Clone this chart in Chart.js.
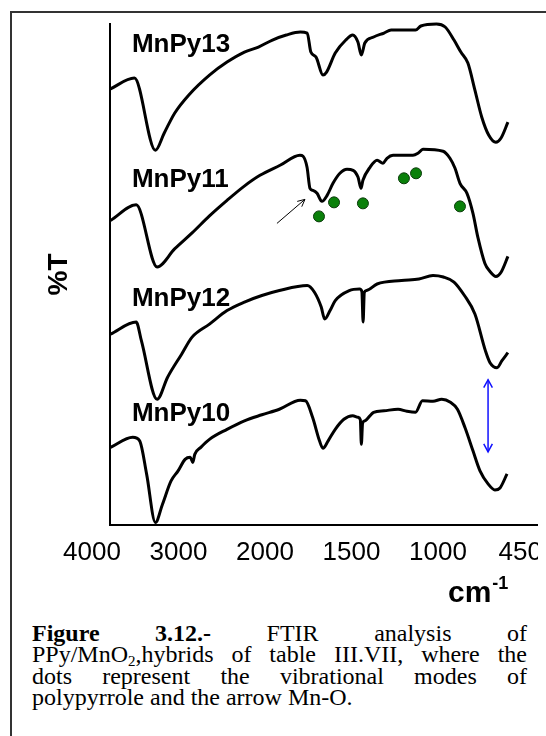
<!DOCTYPE html>
<html>
<head>
<meta charset="utf-8">
<script src="https://cdn.jsdelivr.net/npm/chart.js@4.4.1/dist/chart.umd.min.js"></script>
<style>
  html, body { margin: 0; padding: 0; background: #fff; }
  body { width: 546px; height: 736px; overflow: hidden; position: relative; }
  .frame { position: absolute; left: 10px; top: 11px; width: 600px; height: 800px;
           border: 2px solid #333; box-sizing: border-box; }
  #chart { position: absolute; left: 0; top: 0; }
  .caption { position: absolute; left: 32px; top: 623px; width: 495px;
             font-family: "Liberation Serif", "Times New Roman", serif; font-size: 24px;
             line-height: 21.3px; color: #000; }
  .caption .j { text-align: justify; text-align-last: justify; }
  .caption .sub { font-size: 15px; vertical-align: -4px; line-height: 0; }
</style>
</head>
<body>
<div class="frame"></div>
<canvas id="chart" width="538" height="620"></canvas>
<div class="caption">
  <div class="j"><b>Figure 3.12.-</b> FTIR analysis of</div>
  <div class="j">PPy/MnO<span class="sub">2</span>,hybrids of table III.VII, where the</div>
  <div class="j">dots represent the vibrational modes of</div>
  <div>polypyrrole and the arrow Mn-O.</div>
</div>
<script>
// ---------------------------
// datos
// ---------------------------
// eje x partido: cada etiqueta ocupa el mismo hueco
const tickWn = [4000, 3000, 2000, 1500, 1000, 450];
const tickPos = [0, 1, 2, 3, 4, 4.95];
const tickLabels = ["4000", "3000", "2000", "1500", "1000", "450"];

const seriesNames = ["MnPy13", "MnPy11", "MnPy12", "MnPy10"];
const labelWn = 3538;
const labelT = [94.4, 67.4, 43.8, 20.8];

// [número de onda cm-1, %T desplazado]
const mnpy13 = [[3792,87.0],[3510,89.2],[3267,74.8],[3166,78.2],[3045,82.2],[2883,85.8],[2642,89.8],[2439,92.4],
  [2238,94.4],[2076,95.4],[1957,96.8],[1877,97.8],[1796,98.4],[1756,98.2],[1735,94.4],[1705,93.4],[1665,89.8],
  [1644,90.4],[1594,94.2],[1533,96.8],[1493,97.8],[1463,96.4],[1443,93.8],[1423,96.2],[1372,97.4],[1312,98.2],
  [1271,98.8],[1130,98.8],[1099,99.6],[1009,100],[952,99.4],[893,96.8],[847,94.4],[800,92.2],[753,86.8],
  [707,81.4],[660,77.8],[613,76.4],[579,77.2],[532,80.4]];

const mnpy11 = [[3785,60.8],[3489,63.9],[3247,51.5],[3045,55.1],[2843,58.3],[2642,61.7],[2439,64.8],[2243,67.6],
  [2058,69.8],[1913,71.8],[1798,73.8],[1780,73.6],[1757,71.4],[1740,67.2],[1723,66.8],[1699,66.2],[1671,64.6],
  [1641,65.8],[1607,68.2],[1567,70.2],[1526,71.0],[1491,70.8],[1462,69.4],[1445,67.2],[1434,68.8],[1393,71.4],
  [1352,72.8],[1318,72.2],[1295,73.2],[1260,73.8],[1145,73.8],[1116,74.2],[1087,75.0],[966,74.6],[920,73.2],
  [886,71.2],[853,68.2],[806,66.2],[766,62.2],[733,57.4],[686,52.2],[652,50.6],[612,49.6],[579,50.4],[532,53.6]];

const mnpy12 = [[3785,38.1],[3489,40.5],[3429,36.8],[3247,25.1],[3126,29.5],[2964,34.1],[2843,37.5],[2642,40.1],
  [2439,42.8],[2238,44.5],[2036,45.8],[1917,46.8],[1756,47.8],[1715,46.5],[1675,43.5],[1655,41.1],[1624,42.8],
  [1594,44.8],[1513,46.8],[1453,47.1],[1440,46.6],[1433,40.5],[1426,46.4],[1413,46.8],[1352,48.1],[1211,48.8],
  [1110,49.1],[1029,49.8],[964,49.5],[893,48.5],[823,45.8],[753,42.1],[683,34.8],[652,32.4],[605,31.4],
  [572,32.8],[532,34.4]];

const mnpy10 = [[3785,15.5],[3529,17.5],[3449,16.8],[3368,10.1],[3267,0.5],[3186,4.1],[3086,8.8],[3005,10.8],
  [2924,13.1],[2864,13.5],[2835,12.5],[2812,14.1],[2742,15.5],[2642,17.1],[2439,19.1],[2238,20.8],[2036,22.0],
  [1917,23.1],[1796,24.9],[1766,24.8],[1725,21.5],[1685,16.8],[1665,15.3],[1635,16.8],[1594,19.1],[1544,21.1],
  [1493,21.8],[1463,21.5],[1449,21.0],[1443,16.1],[1436,20.3],[1423,20.8],[1372,22.5],[1312,22.8],[1231,23.1],
  [1180,22.7],[1130,22.5],[1090,24.8],[1029,24.7],[975,25.1],[917,24.5],[870,23.1],[819,19.4],[766,14.8],
  [719,10.8],[665,8.2],[619,7.0],[585,7.4],[538,10.2]];

// modos vibracionales del polipirrol (puntos verdes)
const dotsWn = [1688, 1601, 1434, 1197, 1127, 853];
const dotsT = [61.6, 64.4, 64.2, 69.2, 70.2, 63.6];

// flecha negra y flecha Mn-O
const arrowFrom = [1931, 60.2];
const arrowTo = [1769, 65.0];
const mnoWn = 665;
const mnoT = [29.0, 14.6];

// ---------------------------
// funciones
// ---------------------------
function toAxis(wn) {
  for (let k = 0; k < tickWn.length - 1; k++) {
    const a = tickWn[k], b = tickWn[k + 1];
    if ((wn <= a && wn >= b) || k === tickWn.length - 2) {
      return tickPos[k] + (a - wn) / (a - b) * (tickPos[k + 1] - tickPos[k]);
    }
  }
}

function toPoints(serie) {
  return serie.map(p => ({ x: toAxis(p[0]), y: p[1] }));
}

function arrowHead(ctx, fx, fy, tx, ty, size, ang) {
  const a = Math.atan2(ty - fy, tx - fx);
  ctx.beginPath();
  ctx.moveTo(tx - size * Math.cos(a - ang), ty - size * Math.sin(a - ang));
  ctx.lineTo(tx, ty);
  ctx.lineTo(tx - size * Math.cos(a + ang), ty - size * Math.sin(a + ang));
  ctx.stroke();
}

const extras = {
  id: "extras",
  afterDatasetsDraw(chart) {
    const { ctx, chartArea, scales: { x, y } } = chart;
    ctx.save();

    // nombres de las muestras
    ctx.fillStyle = "#000";
    ctx.font = 'bold 26px "Liberation Sans", Arial, sans-serif';
    ctx.textBaseline = "alphabetic";
    seriesNames.forEach((name, k) => {
      ctx.fillText(name, x.getPixelForValue(toAxis(labelWn)), y.getPixelForValue(labelT[k]));
    });

    // flecha negra
    const ax1 = x.getPixelForValue(toAxis(arrowFrom[0])), ay1 = y.getPixelForValue(arrowFrom[1]);
    const ax2 = x.getPixelForValue(toAxis(arrowTo[0])), ay2 = y.getPixelForValue(arrowTo[1]);
    ctx.strokeStyle = "#000";
    ctx.lineWidth = 1;
    ctx.beginPath();
    ctx.moveTo(ax1, ay1);
    ctx.lineTo(ax2, ay2);
    ctx.stroke();
    arrowHead(ctx, ax1, ay1, ax2, ay2, 8, 0.45);

    // flecha azul Mn-O
    const bx = x.getPixelForValue(toAxis(mnoWn));
    const by1 = y.getPixelForValue(mnoT[0]), by2 = y.getPixelForValue(mnoT[1]);
    ctx.strokeStyle = "#1010ff";
    ctx.lineWidth = 1.5;
    ctx.beginPath();
    ctx.moveTo(bx, by1);
    ctx.lineTo(bx, by2);
    ctx.stroke();
    arrowHead(ctx, bx, by2, bx, by1, 9, 0.5);
    arrowHead(ctx, bx, by1, bx, by2, 9, 0.5);

    // título del eje x: cm-1
    ctx.fillStyle = "#000";
    ctx.font = 'bold 30px "Liberation Sans", Arial, sans-serif';
    const cx = chartArea.right - 90, cy = chartArea.bottom + 77;
    ctx.fillText("cm", cx, cy);
    const w = ctx.measureText("cm").width;
    ctx.font = 'bold 18px "Liberation Sans", Arial, sans-serif';
    ctx.fillText("-1", cx + w + 1, cy - 13);

    ctx.restore();
  }
};

// ---------------------------
// gráfica
// ---------------------------
Chart.defaults.font.family = '"Liberation Sans", Arial, sans-serif';
Chart.defaults.color = "#000";

const lineStyle = {
  type: "line",
  borderColor: "#000",
  borderWidth: 3,
  pointRadius: 0,
  tension: 0.3,
  cubicInterpolationMode: "monotone",
  fill: false,
  clip: 4,
  order: 1
};

const chart = new Chart(document.getElementById("chart"), {
  type: "line",
  data: {
    datasets: [
      {
        type: "scatter",
        data: dotsWn.map((wn, k) => ({ x: toAxis(wn), y: dotsT[k] })),
        pointRadius: 5.5,
        backgroundColor: "#0a800a",
        borderColor: "#0b3b0b",
        borderWidth: 1,
        clip: 8,
        order: 0
      },
      { ...lineStyle, label: seriesNames[0], data: toPoints(mnpy13) },
      { ...lineStyle, label: seriesNames[1], data: toPoints(mnpy11) },
      { ...lineStyle, label: seriesNames[2], data: toPoints(mnpy12) },
      { ...lineStyle, label: seriesNames[3], data: toPoints(mnpy10) }
    ]
  },
  options: {
    responsive: false,
    animation: false,
    layout: { autoPadding: false, padding: { left: 0, right: 0, top: 24, bottom: 39.8 } },
    plugins: { legend: { display: false }, tooltip: { enabled: false } },
    scales: {
      x: {
        type: "linear",
        bounds: "data",
        min: 0.2081,
        max: 5.156,
        grid: { display: false, drawTicks: false },
        border: { display: true, color: "#000", width: 2 },
        afterBuildTicks: scale => { scale.ticks = tickPos.map(v => ({ value: v })); },
        afterFit: scale => { scale.paddingLeft = 0; scale.paddingRight = 0; },
        ticks: {
          autoSkip: false,
          maxRotation: 0,
          padding: 12,
          font: { size: 26 },
          color: "#000",
          callback: (value, index) => tickLabels[index]
        }
      },
      y: {
        type: "linear",
        min: 0,
        max: 100,
        grid: { display: false, drawTicks: false },
        border: { display: true, color: "#000", width: 2 },
        ticks: { display: false },
        title: {
          display: true,
          text: "%T",
          font: { size: 28, weight: "bold", lineHeight: 1.2 },
          color: "#000",
          padding: { top: 42, bottom: 34.4 }
        }
      }
    }
  },
  plugins: [extras]
});
</script>
</body>
</html>
